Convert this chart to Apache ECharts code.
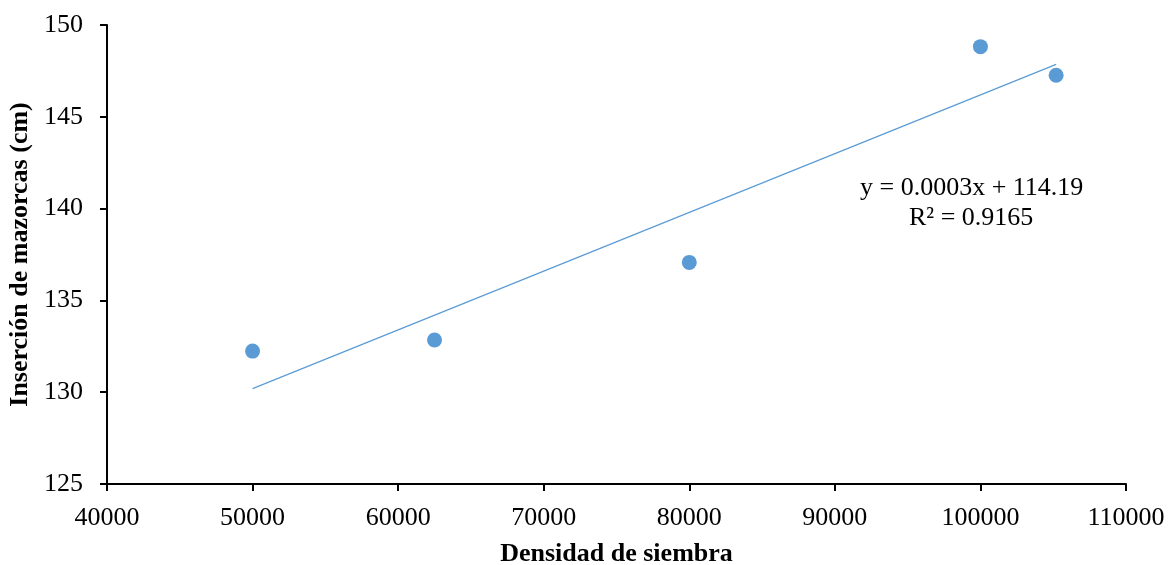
<!DOCTYPE html>
<html>
<head>
<meta charset="utf-8">
<style>html,body{margin:0;padding:0;background:#fff}#c{width:1168px;height:565px}</style>
<script src="https://cdn.jsdelivr.net/npm/echarts@6/dist/echarts.min.js"></script>
</head>
<body>
<div id="c"></div>
<script>
const density = [50000, 62500, 80000, 100000, 105200];
const insertion = [132.24, 132.84, 137.07, 148.82, 147.26];
const equationText = 'y = 0.0003x + 114.19';
const r2Text = 'R² = 0.9165';

// least-squares trendline from the data
const n = density.length;
const mx = density.reduce((a, b) => a + b, 0) / n;
const my = insertion.reduce((a, b) => a + b, 0) / n;
let sxy = 0, sxx = 0;
for (let i = 0; i < n; i++) { sxy += (density[i] - mx) * (insertion[i] - my); sxx += (density[i] - mx) ** 2; }
const slope = sxy / sxx, icpt = my - slope * mx;
const xMin = Math.min(...density), xMax = Math.max(...density);
const trend = [[xMin, icpt + slope * xMin], [xMax, icpt + slope * xMax]];

const font = 'Liberation Serif';
const chart = echarts.init(document.getElementById('c'));
chart.setOption({
  animation: false,
  grid: { left: 107, right: 42, top: 25, bottom: 81, containLabel: false, outerBoundsMode: 'none' },
  xAxis: {
    type: 'value', min: 40000, max: 110000, interval: 10000,
    name: 'Densidad de siembra', nameLocation: 'middle', nameGap: 57,
    nameTextStyle: { fontFamily: font, fontSize: 26, fontWeight: 'bold', color: '#000' },
    axisLine: { show: true, lineStyle: { color: '#000', width: 2 } },
    axisTick: { show: true, length: 7, lineStyle: { color: '#000', width: 2 } },
    axisLabel: { fontFamily: font, fontSize: 26, color: '#000', margin: 21, formatter: v => String(v) },
    splitLine: { show: false }
  },
  yAxis: {
    type: 'value', min: 125, max: 150, interval: 5,
    name: 'Inserción de mazorcas (cm)', nameLocation: 'middle', nameGap: 69, nameRotate: 90,
    nameTextStyle: { fontFamily: font, fontSize: 26, fontWeight: 'bold', color: '#000' },
    axisLine: { show: true, lineStyle: { color: '#000', width: 2 } },
    axisTick: { show: true, length: 7, lineStyle: { color: '#000', width: 2 } },
    axisLabel: { fontFamily: font, fontSize: 26, color: '#000', margin: 24 },
    splitLine: { show: false }
  },
  series: [
    {
      type: 'line', data: trend, symbol: 'none', silent: true,
      lineStyle: { color: '#5B9BD5', width: 1.2 }, z: 1
    },
    {
      type: 'scatter', data: density.map((x, i) => [x, insertion[i]]),
      symbolSize: 15, itemStyle: { color: '#5B9BD5', opacity: 1 }, z: 2
    }
  ],
  graphic: [
    { type: 'text', left: 860, top: 175, style: { text: equationText, font: '26px "Liberation Serif"', fill: '#000', textAlign: 'left' } },
    { type: 'text', left: 909, top: 205, style: { text: r2Text, font: '26px "Liberation Serif"', fill: '#000', textAlign: 'left' } }
  ]
});
</script>
</body>
</html>
